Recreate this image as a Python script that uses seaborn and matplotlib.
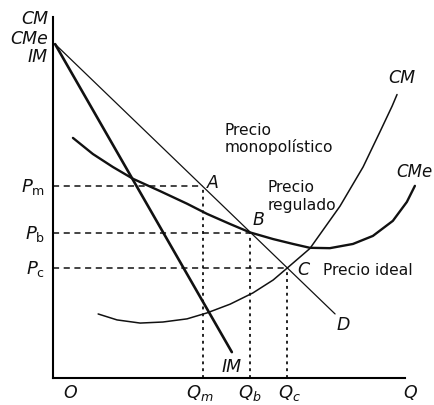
import matplotlib
matplotlib.use("Agg")
import matplotlib.pyplot as plt
import pandas as pd
import seaborn as sns

# ---------------------------------------------------------------------------
# DATA (arbitrary units)
# ---------------------------------------------------------------------------
Q_M, Q_B, Q_C = 4.29, 5.63, 6.69
P_M, P_B, P_C = 5.49, 4.14, 3.14

demand_q = [0.06, 8.06]
demand_p = [9.54, 1.83]

im_q = [0.06, 5.11]
im_p = [9.54, 0.74]

cme_q = [0.57, 1.14, 1.71, 2.29, 3.06, 3.83, 4.40, 5.06, 5.63, 6.29,
         6.86, 7.34, 7.91, 8.57, 9.14, 9.71, 10.11, 10.34]
cme_p = [6.86, 6.40, 6.03, 5.69, 5.34, 4.98, 4.69, 4.40, 4.16, 3.97,
         3.83, 3.72, 3.71, 3.83, 4.06, 4.49, 5.03, 5.49]

cm_q = [1.29, 1.83, 2.49, 3.14, 3.83, 4.40, 5.06, 5.71, 6.29, 6.69,
        7.34, 8.20, 8.86, 9.34, 9.69, 9.83]
cm_p = [1.83, 1.66, 1.57, 1.60, 1.69, 1.86, 2.11, 2.43, 2.80, 3.14,
        3.70, 4.91, 6.03, 7.03, 7.77, 8.10]

price_labels = [r"$P_{\mathrm{m}}$", r"$P_{\mathrm{b}}$", r"$P_{\mathrm{c}}$"]
qty_labels = [r"$Q_m$", r"$Q_b$", r"$Q_c$"]
point_labels = ["A", "B", "C"]

# ---------------------------------------------------------------------------
# FIGURE
# ---------------------------------------------------------------------------
sns.set_theme(style="white")
plt.rcParams["font.family"] = ["DejaVu Sans"]
plt.rcParams["mathtext.fontset"] = "dejavusans"

fig = plt.figure(figsize=(4.34, 4.06), dpi=100)
ax = fig.add_axes([0, 0, 1, 1])
ax.set_xlim(-1.514, 10.886)
ax.set_ylim(-0.771, 10.829)

ax.set_xticks([])
ax.set_yticks([])
for side in ["top", "right"]:
    ax.spines[side].set_visible(False)
ax.spines["left"].set_position(("data", 0))
ax.spines["bottom"].set_position(("data", 0))
ax.spines["left"].set_bounds(0, 10.31)
ax.spines["bottom"].set_bounds(0, 10.06)
for side in ["left", "bottom"]:
    ax.spines[side].set_color("black")
    ax.spines[side].set_linewidth(1.5)

ink = "#111111"

# curves: demand, IM, CMe, CM
curves = [
    (demand_q, demand_p, 0.9),
    (im_q, im_p, 1.9),
    (cme_q, cme_p, 1.7),
    (cm_q, cm_p, 1.1),
]
for qs, ps, lw in curves:
    df = pd.DataFrame({"q": qs, "p": ps})
    sns.lineplot(data=df, x="q", y="p", sort=False, estimator=None,
                 color=ink, linewidth=lw, ax=ax,
                 solid_joinstyle="round", solid_capstyle="round")
ax.set_xlabel("")
ax.set_ylabel("")

# guide lines for A, B, C
for q, p in [(Q_M, P_M), (Q_B, P_B), (Q_C, P_C)]:
    ax.plot([0, q], [p, p], color=ink, linewidth=1.1, linestyle=(0, (4, 3)))
    ax.plot([q, q], [0, p], color=ink, linewidth=1.3, linestyle=(0, (1.6, 2.2)))

# labels on the axes
lab = dict(color=ink, fontsize=12.5, style="italic")
ax.text(-0.14, 10.3, "CM", ha="right", va="center", **lab)
ax.text(-0.14, 9.72, "CMe", ha="right", va="center", **lab)
ax.text(-0.14, 9.2, "IM", ha="right", va="center", **lab)

for p, txt in zip([P_M, P_B, P_C], price_labels):
    ax.text(-0.22, p, txt, ha="right", va="center", fontsize=13, color=ink)

for q, txt in zip([Q_M - 0.09, Q_B, Q_C + 0.06], qty_labels):
    ax.text(q, -0.4, txt, ha="center", va="center", fontsize=13, color=ink)
ax.text(0.49, -0.4, "O", ha="center", va="center", **lab)
ax.text(10.2, -0.4, "Q", ha="center", va="center", **lab)

# point labels
for (q, p), txt, (dx, dy) in zip([(Q_M, P_M), (Q_B, P_B), (Q_C, P_C)],
                                 point_labels,
                                 [(0.29, 0.11), (0.23, 0.4), (0.46, -0.03)]):
    ax.text(q + dx, p + dy, txt, ha="center", va="center", **lab)

ax.text(8.29, 1.54, "D", ha="center", va="center", **lab)
ax.text(5.11, 0.34, "IM", ha="center", va="center", **lab)
ax.text(9.97, 8.6, "CM", ha="center", va="center", **lab)
ax.text(9.8, 5.91, "CMe", ha="left", va="center", color=ink, fontsize=12,
        style="italic")

# annotations
note = dict(color=ink, fontsize=11.2, ha="left", va="center")
ax.text(4.91, 7.11, "Precio", **note)
ax.text(4.91, 6.63, "monopolístico", **note)
ax.text(6.14, 5.46, "Precio", **note)
ax.text(6.14, 4.97, "regulado", **note)
ax.text(7.71, 3.11, "Precio ideal", **note)

fig.savefig("out.png", dpi=100)
plt.close(fig)
